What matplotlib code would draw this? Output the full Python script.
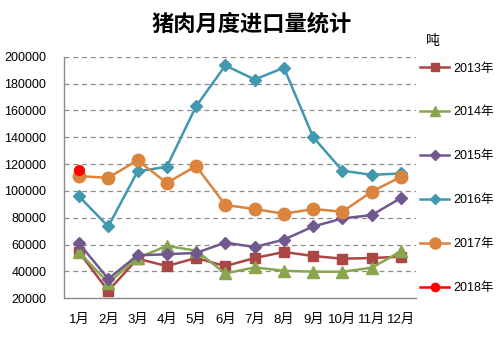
import matplotlib
matplotlib.use("Agg")
import matplotlib.pyplot as plt
from matplotlib.lines import Line2D

plt.rcParams['font.family'] = ['Liberation Sans', 'Noto Sans CJK SC', 'DejaVu Sans']

months = ['1月', '2月', '3月', '4月', '5月', '6月', '7月', '8月', '9月', '10月', '11月', '12月']
years = ['2013年', '2014年', '2015年', '2016年', '2017年', '2018年']

y2013 = [54500, 25500, 49500, 44000, 50000, 44000, 50000, 54500, 51500, 49500, 50000, 51000]
y2014 = [54500, 31500, 50000, 59000, 55500, 38500, 43000, 40500, 39800, 39800, 42800, 55000]
y2015 = [61000, 34500, 52000, 52800, 53800, 61500, 58200, 63700, 73500, 79500, 82000, 94800]
y2016 = [96000, 73500, 114500, 118000, 163000, 193500, 183000, 191800, 140000, 115000, 112000, 113000]
y2017 = [111000, 109800, 122800, 106000, 118500, 89500, 86500, 83000, 86500, 84500, 99500, 110500]
y2018 = [115600]

series = [y2013, y2014, y2015, y2016, y2017, y2018]
colors = ['#AA4643', '#89A54E', '#71588F', '#4198AF', '#DB843D', '#FF0000']
markers = ['s', '^', 'D', 'D', 'o', 'o']
msizes = [7, 8, 6, 6, 9, 7]

fig = plt.figure(figsize=(5.04, 3.38), dpi=100)
ax = fig.add_axes([0.1276, 0.1175, 0.6972, 0.7147])

x = list(range(len(months)))
for i, vals in enumerate(series):
    ax.plot(x[:len(vals)], vals, color=colors[i], marker=markers[i],
            markersize=msizes[i], linewidth=1.8, zorder=3 + i, clip_on=False)

ax.set_xlim(-0.5, 11.5)
ax.set_ylim(20000, 200000)
ax.set_yticks(range(20000, 200001, 20000))
ax.set_yticklabels([str(v) for v in range(20000, 200001, 20000)], fontsize=9)
ax.set_xticks(x)
ax.set_xticklabels(months, fontsize=9.5)
ax.tick_params(length=0)
ax.tick_params(axis='y', pad=13)
ax.tick_params(axis='x', pad=11)
ax.yaxis.grid(True, linestyle=(0, (4, 3)), color='#8C8C8C', linewidth=0.9)
ax.set_axisbelow(True)
for s in ['top', 'right']:
    ax.spines[s].set_visible(False)
for s in ['left', 'bottom']:
    ax.spines[s].set_color('#8C8C8C')
    ax.spines[s].set_linewidth(1.0)

fig.text(0.5, 0.93, '猪肉月度进口量统计', ha='center', va='center',
         fontsize=16, fontweight='bold', family=['Noto Sans CJK SC'])
fig.text(0.858, 0.88, '吨', ha='center', va='center', fontsize=10)

handles = [Line2D([], [], color=colors[i], marker=markers[i], markersize=msizes[i] - 1,
                  linewidth=1.8) for i in range(len(years))]
fig.legend(handles, years, loc='upper left', bbox_to_anchor=(0.834, 0.815),
           frameon=False, fontsize=9, handlelength=2.3, handletextpad=0.3,
           labelspacing=2.55, borderaxespad=0, borderpad=0)

fig.savefig('out.png', dpi=100)
